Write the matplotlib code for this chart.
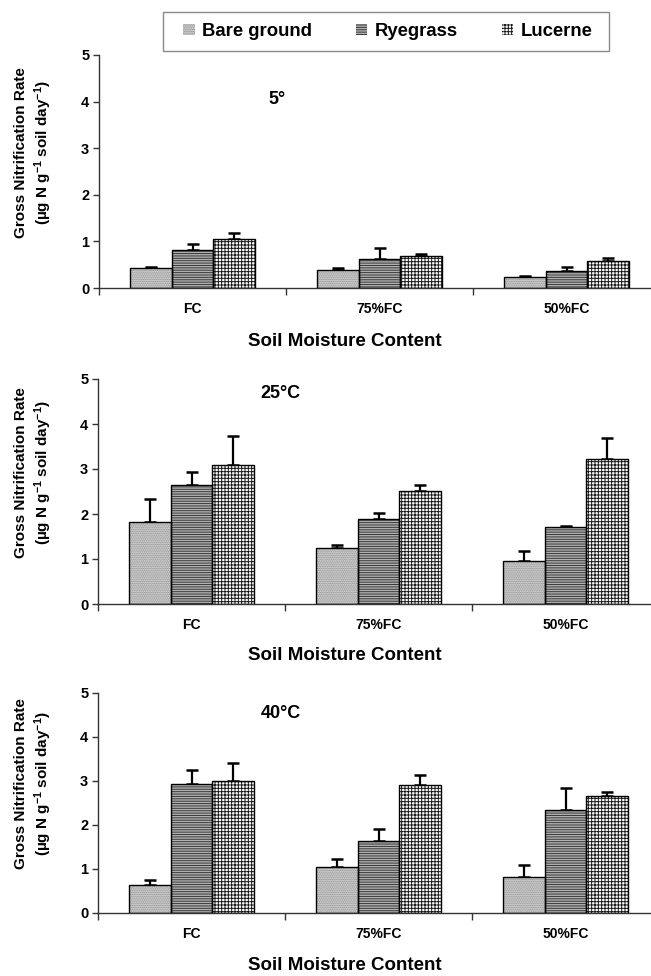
import matplotlib
matplotlib.use("Agg")
import matplotlib.pyplot as plt
from matplotlib.patches import Rectangle
import numpy as np

plt.rcParams['font.family'] = ['Liberation Sans', 'DejaVu Sans']
plt.rcParams['mathtext.fontset'] = 'custom'
plt.rcParams['mathtext.rm'] = 'Liberation Sans:bold'
plt.rcParams['mathtext.bf'] = 'Liberation Sans:bold'
plt.rcParams['mathtext.it'] = 'Liberation Sans:bold'
plt.rcParams['hatch.linewidth'] = 0.7

moisture = ["FC", "75%FC", "50%FC"]
series = ["Bare ground", "Ryegrass", "Lucerne"]
panel_titles = ["5°", "25°C", "40°C"]

# values [series][moisture]
t5_bare = [0.43, 0.38, 0.23]
t5_rye = [0.82, 0.63, 0.36]
t5_luc = [1.05, 0.68, 0.58]
t5_bare_err = [0.02, 0.05, 0.03]
t5_rye_err = [0.13, 0.22, 0.09]
t5_luc_err = [0.13, 0.05, 0.07]

t25_bare = [1.82, 1.24, 0.95]
t25_rye = [2.65, 1.88, 1.71]
t25_luc = [3.08, 2.52, 3.22]
t25_bare_err = [0.52, 0.08, 0.23]
t25_rye_err = [0.28, 0.15, 0.02]
t25_luc_err = [0.66, 0.13, 0.47]

t40_bare = [0.63, 1.05, 0.81]
t40_rye = [2.93, 1.63, 2.33]
t40_luc = [3.00, 2.90, 2.67]
t40_bare_err = [0.11, 0.17, 0.28]
t40_rye_err = [0.31, 0.29, 0.51]
t40_luc_err = [0.40, 0.23, 0.07]

panels = [
    ([t5_bare, t5_rye, t5_luc], [t5_bare_err, t5_rye_err, t5_luc_err]),
    ([t25_bare, t25_rye, t25_luc], [t25_bare_err, t25_rye_err, t25_luc_err]),
    ([t40_bare, t40_rye, t40_luc], [t40_bare_err, t40_rye_err, t40_luc_err]),
]

styles = [
    dict(facecolor='#d2d2d2', hatch='.........', edgecolor='#8c8c8c'),
    dict(facecolor='#b0b0b0', hatch='-------', edgecolor='#383838'),
    dict(facecolor='#ffffff', hatch='+++++', edgecolor='#1a1a1a'),
]

W, H = 651, 976
fig = plt.figure(figsize=(W / 100, H / 100), dpi=100)

# axes pixel boxes: (x0, y_top(5), y_bottom(0))
boxes = [(99, 55, 288), (98, 379, 604), (98, 693, 913)]
group_px = 187
title_pos = [(277, 99), (280, 393), (281, 713)]
xlabel_y = [342, 656, 966]

x = np.arange(len(moisture)) + 0.5
bw = 0.222
handles = []
for pi, ((vals, errs), (x0, yt, yb)) in enumerate(zip(panels, boxes)):
    ax = fig.add_axes([x0 / W, 1 - yb / H, 3 * group_px / W, (yb - yt) / H])
    for si in range(3):
        pos = x + (si - 1) * bw
        st = styles[si]
        bars = ax.bar(pos, vals[si], width=bw, facecolor=st['facecolor'],
                      hatch=st['hatch'], edgecolor=st['edgecolor'], linewidth=0.0,
                      zorder=2)
        ax.bar(pos, vals[si], width=bw, facecolor='none', edgecolor='black',
               linewidth=1.0, zorder=3)
        ax.errorbar(pos, vals[si], yerr=[np.zeros(3), errs[si]], fmt='none',
                    ecolor='black', elinewidth=1.6, capsize=4, capthick=1.8, zorder=1)
        if pi == 0:
            handles.append(bars)
    ax.set_xlim(0, 3)
    ax.set_ylim(0, 5)
    ax.set_yticks([0, 1, 2, 3, 4, 5])
    ax.set_xticks([0, 1, 2, 3])
    ax.set_xticklabels([])
    ax.set_xticks(x, minor=True)
    ax.set_xticklabels(moisture, minor=True, fontsize=10, fontweight='bold')
    ax.tick_params(axis='x', which='minor', length=0, pad=10)
    ax.tick_params(axis='x', which='major', length=5, width=1, color='#333333')
    ax.tick_params(axis='y', length=4, width=1, color='#333333', labelsize=10.5, pad=3)
    for lab in ax.get_yticklabels():
        lab.set_fontweight('bold')
    for s in ['top', 'right']:
        ax.spines[s].set_visible(False)
    for s in ['left', 'bottom']:
        ax.spines[s].set_color('#333333')
        ax.spines[s].set_linewidth(1.0)
    ax.patch.set_alpha(0)
    tx, ty = title_pos[pi]
    fig.text(tx / W, 1 - ty / H, panel_titles[pi], fontsize=13, fontweight='bold',
             ha='center', va='center')
    fig.text(345 / W, 1 - xlabel_y[pi] / H, "Soil Moisture Content", fontsize=13.5,
             fontweight='bold', ha='center', va='center')
    yc = 1 - ((yt + yb) / 2 - 19) / H
    fig.text(21 / W, yc, "Gross Nitrification Rate", rotation=90, fontsize=11,
             fontweight='bold', ha='center', va='center')
    fig.text(43 / W, yc, r"(µg N g$^{-1}$ soil day$^{-1}$)", rotation=90,
             fontsize=11, fontweight='bold', ha='center', va='center')

# legend frame drawn as a figure rectangle
fig.patches.append(Rectangle((163 / W, 1 - 51 / H), (609 - 163) / W, 39 / H,
                             transform=fig.transFigure, facecolor='white',
                             edgecolor='#8a8a8a', linewidth=1.0, zorder=0))
leg = fig.legend(handles, series, loc='center', bbox_to_anchor=((163 + 609) / 2 / W + 2 / W, 1 - 31.5 / H),
                 ncol=3, frameon=False,
                 prop={'weight': 'bold', 'size': 13.3}, handlelength=0.6, handleheight=0.6,
                 columnspacing=2.4, handletextpad=0.4, borderpad=0.3, borderaxespad=0)

fig.savefig("out.png", dpi=100)
